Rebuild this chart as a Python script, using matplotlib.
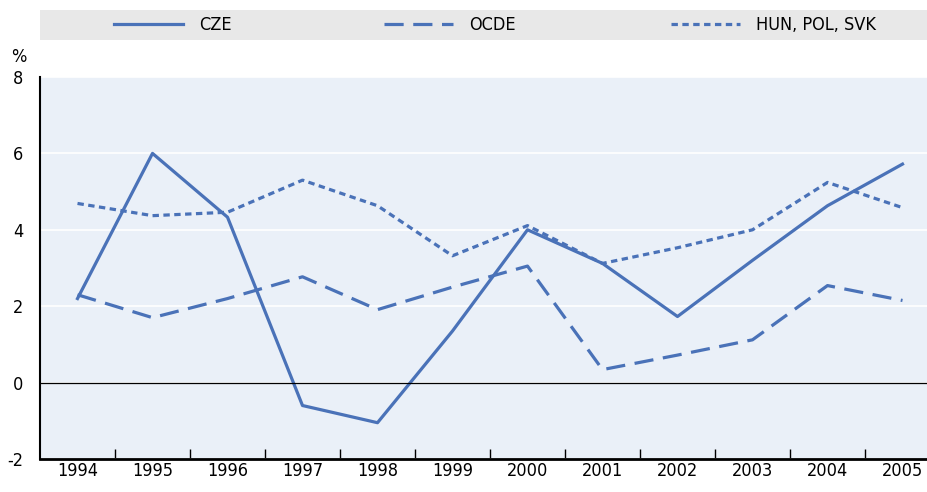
import matplotlib.pyplot as plt
from matplotlib.patches import Rectangle
import numpy as np

# Values (%)
years = ['1994', '1995', '1996', '1997', '1998', '1999', '2000',
         '2001', '2002', '2003', '2004', '2005']
cze = [2.2, 6.0, 4.33, -0.6, -1.05, 1.35, 4.0, 3.12, 1.73, 3.2, 4.63, 5.72]
ocde = [2.3, 1.7, 2.2, 2.77, 1.91, 2.5, 3.05, 0.34, 0.72, 1.12, 2.54, 2.15]
hps = [4.69, 4.37, 4.46, 5.3, 4.63, 3.32, 4.11, 3.12, 3.53, 4.0, 5.24, 4.58]
yticks = [-2, 0, 2, 4, 6, 8]

plt.rcParams['font.family'] = ['DejaVu Sans']
plt.rcParams['font.stretch'] = 'condensed'
color = '#4A72B8'
fs = 13

fig = plt.figure(figsize=(9.28, 4.92), dpi=100)
ax = fig.add_axes([40 / 928, 33 / 492, 888 / 928, 382 / 492])
ax.set_facecolor('#EAF0F8')

x = np.arange(len(years))
l1, = ax.plot(x, cze, color=color, lw=2.3, label='CZE')
l2, = ax.plot(x, ocde, color=color, lw=2.3, dashes=(6, 3), label='OCDE')
l3, = ax.plot(x, hps, color=color, lw=2.3, dashes=(2, 1.4), label='HUN, POL, SVK')

ax.set_xlim(-0.5, (888 / 75) - 0.5)
ax.set_ylim(-2, 8)
ax.set_yticks(yticks)
ax.set_yticklabels([str(v) for v in yticks], fontsize=fs)
ax.yaxis.grid(True, color='white', lw=1.2)
ax.set_axisbelow(True)
ax.axhline(0, color='black', lw=0.9)

# category labels centred, ticks between categories
ax.set_xticks(x)
ax.set_xticklabels(years, fontsize=fs)
ax.tick_params(axis='x', length=0, pad=2)
ax.set_xticks(x[:-1] + 0.5, minor=True)
ax.tick_params(axis='x', which='minor', direction='in', length=7, width=1, color='black')
ax.tick_params(axis='y', length=0, pad=12)

for s in ['top', 'right']:
    ax.spines[s].set_visible(False)
ax.spines['left'].set_linewidth(1.5)
ax.spines['bottom'].set_linewidth(2)

fig.text(11 / 928, 1 - 57 / 492, '%', fontsize=fs, ha='left', va='center')

# legend band
fig.patches.append(Rectangle((40 / 928, 1 - 40 / 492), 888 / 928, 30 / 492,
                             transform=fig.transFigure, facecolor='#E8E8E8',
                             edgecolor='none', zorder=0))
for h, x0 in zip([l1, l2, l3], [114, 384, 671]):
    fig.legend(handles=[h], loc='center left',
               bbox_to_anchor=(x0 / 928, 1 - 25 / 492),
               fontsize=fs, handlelength=3.8, handletextpad=0.9,
               frameon=False, borderaxespad=0, borderpad=0)

fig.savefig('out.png', dpi=100)
